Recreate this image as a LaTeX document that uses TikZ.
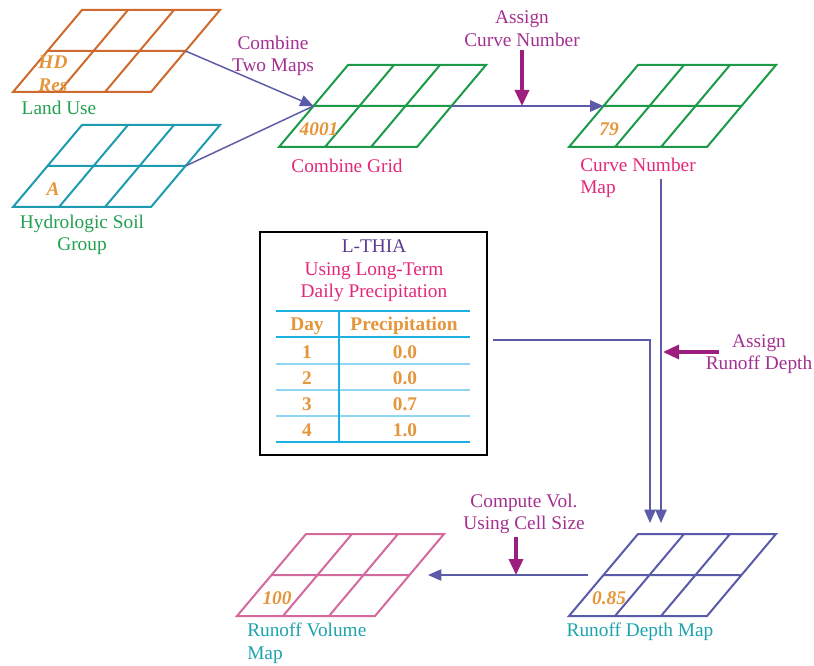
\documentclass[tikz,border=0pt]{standalone}
\usepackage{fontspec}
\setmainfont{Liberation Serif}
\usetikzlibrary{arrows.meta}

\definecolor{luorange}{HTML}{CF6A2E}
\definecolor{soilteal}{HTML}{1F9BB0}
\definecolor{gridgreen}{HTML}{1C9A48}
\definecolor{depthblue}{HTML}{5A5AAA}
\definecolor{volpink}{HTML}{D4699E}
\definecolor{flowblue}{HTML}{5B5BA8}
\definecolor{steppurple}{HTML}{9C1F80}
\definecolor{steptext}{HTML}{A3308F}
\definecolor{namepink}{HTML}{E3287A}
\definecolor{namegreen}{HTML}{22A050}
\definecolor{nameteal}{HTML}{1BA3AE}
\definecolor{valorange}{HTML}{E5953A}
\definecolor{thiapurple}{HTML}{5B3B8F}
\definecolor{rulecyan}{HTML}{1CB0E3}
\definecolor{rulelight}{HTML}{8FD6F2}

\newcommand{\figfont}{\fontsize{14.5}{17}\selectfont}

% one 3x2 raster map, placed by its lower left corner
\newcommand{\mapgrid}[4]{% #1 name, #2 corner, #3 colour, #4 cell value
  \begin{scope}[shift={(#2)}]
    \draw[gridline, draw=#3] (0,0) -- (138,0) -- (207,-82) -- (69,-82) -- cycle
      (34.5,-41) -- (172.5,-41)
      (46,0) -- (115,-82) (92,0) -- (161,-82);
    \node[cellval] (#1-val) at (40,-18) {#4};
    \coordinate (#1-ml) at (34.5,-41);
    \coordinate (#1-mr) at (172.5,-41);
  \end{scope}}

\tikzset{
  gridline/.style={line width=1.5pt},
  cellval/.style={text=valorange, font=\figfont\bfseries\itshape, align=center, inner sep=0pt},
  flow/.style={draw=flowblue, line width=1.1pt, -{Triangle[length=10pt,width=8.5pt]}},
  flowline/.style={draw=flowblue, line width=1.1pt},
  stepflow/.style={draw=steppurple, line width=2.6pt, -{Triangle[length=12pt,width=10.5pt]}},
  steplbl/.style={text=steptext, align=center, inner sep=0pt},
  maplbl/.style={align=center, inner sep=0pt},
  thiabox/.style={draw=black, line width=1.2pt, minimum width=170.25pt, minimum height=167.25pt},
  tblcell/.style={text=valorange, font=\figfont\bfseries, inner sep=0pt},
  thickrule/.style={draw=rulecyan, line width=2pt},
  thinrule/.style={draw=rulelight, line width=1pt},
}

\begin{document}
\begin{tikzpicture}[x=0.75pt, y=-0.75pt, font=\figfont]
\useasboundingbox (0,0) rectangle (814,666);

% input maps
\mapgrid{landuse}{13,92}{luorange}{HD\\Res}
\mapgrid{soil}{13,207}{soilteal}{A}
\node[maplbl, text=namegreen] (landlbl) at (59,108) {Land Use};
\node[maplbl, text=namegreen] (soillbl) at (82,235) {Hydrologic Soil\\Group};

% derived maps
\mapgrid{combine}{279,147}{gridgreen}{4001}
\mapgrid{curve}{569,147}{gridgreen}{79}
\mapgrid{depth}{569,616}{depthblue}{0.85}
\mapgrid{volume}{237,616}{volpink}{100}
\node[maplbl, text=namepink] (combinelbl) at (347,166) {Combine Grid};
\node[maplbl, text=namepink, anchor=west, align=left] (curvelbl) at (580,178) {Curve Number\\Map};
\node[maplbl, text=nameteal] (depthlbl) at (640,632) {Runoff Depth Map};
\node[maplbl, text=nameteal, anchor=west, align=left] (volumelbl) at (247,643) {Runoff Volume\\Map};

% step labels
\node[steplbl] (combstep) at (273,56) {Combine\\Two Maps};
\node[steplbl] (cnstep) at (522,29) {Assign\\Curve Number};
\node[steplbl] (rdstep) at (759,354) {Assign\\Runoff Depth};
\node[steplbl] (volstep) at (524,514) {Compute Vol.\\Using Cell Size};

% L-THIA table
\node[thiabox] (lthia) at (373.5,343.5) {};
\node[maplbl, text=namepink] (thiatitle) at (374,271)
  {\textcolor{thiapurple}{L-THIA}\\Using Long-Term\\Daily Precipitation};
\draw[thickrule] (276,311) -- (470,311) (276,337) -- (470,337) (276,442) -- (470,442);
\foreach \y in {364,390,416}
  \draw[thinrule] (276,\y) -- (470,\y);
\draw[rulecyan, line width=0.8pt] (339,311) -- (339,442);
\node[tblcell] (dayhead) at (307,326) {Day};
\node[tblcell] (prechead) at (404,326) {Precipitation};
\foreach \d/\p [count=\i] in {1/0.0, 2/0.0, 3/0.7, 4/1.0} {
  \node[tblcell] (day\i) at (307,326+26*\i) {\d};
  \node[tblcell] (prec\i) at (405,326+26*\i) {\p};
}

% connector ends
\coordinate (cnout) at (661,179);
\coordinate (depthin1) at (650,523);
\coordinate (depthin2) at (661,523);
\coordinate (rdstart) at (719,352);
\coordinate (rdend) at (663,352);
\coordinate (depthout) at (588,575);
\coordinate (volin) at (428,575);
\coordinate (volstart) at (516,537);

% connectors
\draw[flow] (landuse-mr) -- (combine-ml);
\draw[flowline] (soil-mr) -- (combine-ml);
\draw[flow] (combine-mr) -- (curve-ml);
\draw[stepflow] ([yshift=-2.5pt]cnstep.south) -- (cnstep.south |- combine-mr);
\draw[flow] (cnout) -- (depthin2);
\draw[flow] ([xshift=4pt,yshift=2.6pt]lthia.east) -| (depthin1);
\draw[stepflow] (rdstart) -- (rdend);
\draw[flow] (depthout) -- (volin);
\draw[stepflow] (volstart) -- (volstart |- depthout);
\end{tikzpicture}
\end{document}
